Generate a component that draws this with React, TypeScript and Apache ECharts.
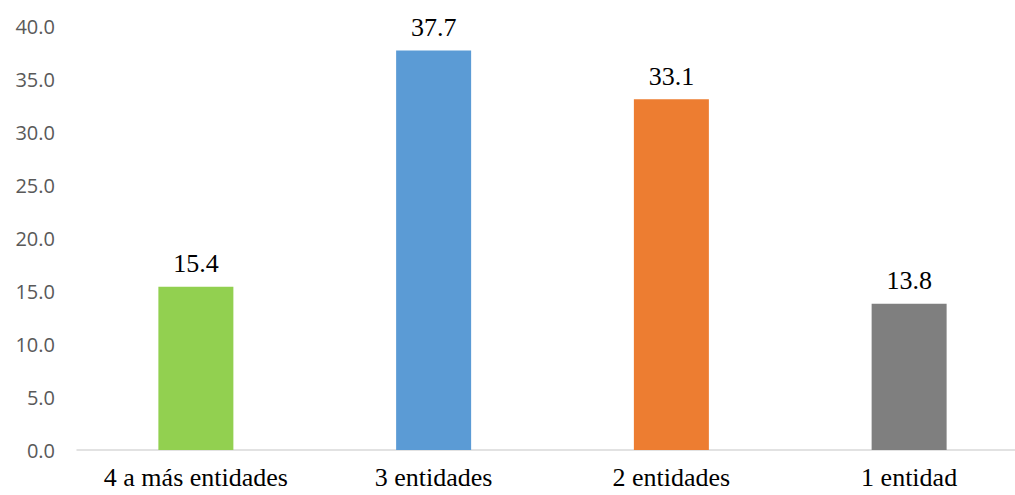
import React, { useEffect, useRef } from "react";
import * as echarts from "echarts";

const categories = ["4 a más entidades", "3 entidades", "2 entidades", "1 entidad"];
const values = [15.4, 37.7, 33.1, 13.8];
const barColors = ["#92D050", "#5B9BD5", "#ED7D31", "#7F7F7F"];
const yTicks = { min: 0, max: 40, interval: 5 };

export default function App() {
  const ref = useRef<HTMLDivElement>(null);

  useEffect(() => {
    if (!ref.current) return;
    const chart = echarts.init(ref.current, null, { renderer: "svg" });
    chart.setOption({
      animation: false,
      backgroundColor: "#ffffff",
      grid: { left: 77, top: 26, width: 951, height: 424, outerBoundsMode: "none", containLabel: false },
      xAxis: {
        type: "category",
        data: categories,
        axisLine: { show: true, lineStyle: { color: "#D9D9D9", width: 1.5 } },
        axisTick: { show: false },
        axisLabel: {
          interval: 0,
          color: "#000000",
          fontFamily: "Liberation Serif, Times New Roman, serif",
          fontSize: 26,
          margin: 14,
        },
      },
      yAxis: {
        type: "value",
        min: yTicks.min,
        max: yTicks.max,
        interval: yTicks.interval,
        axisLine: { show: false },
        axisTick: { show: false },
        splitLine: { show: false },
        axisLabel: {
          color: "#595959",
          fontFamily: "Open Sans, sans-serif",
          fontSize: 20,
          margin: 22,
          formatter: (v: number) => v.toFixed(1),
        },
      },
      series: [
        {
          type: "bar",
          barWidth: 75,
          data: values.map((v, i) => ({ value: v, itemStyle: { color: barColors[i] } })),
          label: {
            show: true,
            position: "top",
            distance: 10,
            color: "#000000",
            fontFamily: "Liberation Serif, Times New Roman, serif",
            fontSize: 26,
            formatter: (p: any) => p.value.toFixed(1),
          },
        },
      ],
    });
    return () => chart.dispose();
  }, []);

  return (
    <div
      ref={ref}
      style={{ position: "fixed", left: 0, top: 0, width: 1015, height: 495 }}
    />
  );
}
